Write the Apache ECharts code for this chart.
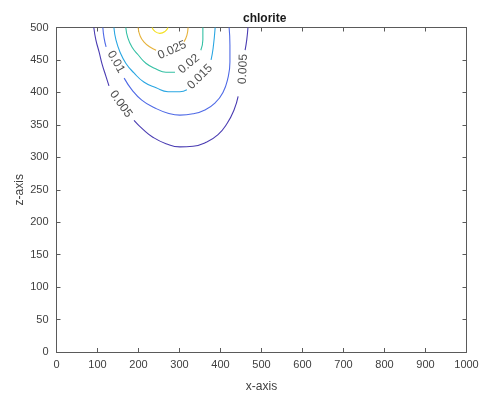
<!DOCTYPE html>
<html>
<head>
<meta charset="utf-8">
<script src="https://cdn.jsdelivr.net/npm/echarts@6/dist/echarts.min.js"></script>
<style>html,body{margin:0;padding:0;background:#fff}#c{width:486px;height:396px}</style>
</head>
<body>
<div id="c"></div>
<script>
// ---- data ----
var titleText = 'chlorite';
var xName = 'x-axis';
var zName = 'z-axis';
var xTicks = [0,100,200,300,400,500,600,700,800,900,1000];
var zTicks = [0,50,100,150,200,250,300,350,400,450,500];
var levels = [0.005, 0.01, 0.015, 0.02, 0.025, 0.03];

// contour paths [x, z]; null = break where a label sits
var c005 = [[91,500],[96,481],[104,462],[111,444],[121,424],[128,410],null,
  [189,357],[211,343],[235,331],[267,321],[301,316],[333,317],[365,323],[394,335],[416,352],[433,373],[443,394],null,
  [460,465],[464,481],[467,500]];
var c010 = [[113,500],[116,484],[121,470],null,
  [165,422],[184,404],[208,388],[240,376],[272,368],[301,365],[333,367],[362,373],[387,384],[406,400],[418,422],[423,447],[423,473],[421,500]];
var c015 = [[140,500],[145,481],[155,462],[169,445],[189,430],[213,416],[243,407],[272,401],[301,401],[318,404],null,
  [377,450],[382,468],[387,500]];
var c020 = [[169,500],[174,484],[184,470],[199,458],[218,445],[243,436],[267,431],[289,431],null,
  [352,465],[357,481],[357,500]];
var c025 = [[199,500],[204,487],[213,478],[228,470],[243,465],null,
  [311,478],[318,488],[321,500]];
var c030 = [[233,500],[240,494],[252,491],[265,494],[272,500]];
var contours = [c005, c010, c015, c020, c025, c030];

// contour label anchors [x, z], text and angle
var labelPos = [[157,382],[145,447],[282,465],[323,444],[350,424],[455,436]];
var labelText = ['0.005','0.01','0.025','0.02','0.015','0.005'];
var labelAngle = [-55,-60,24,40,45,88];

// ---- style ----
var colors = ['#4a3cb2','#4f6ae6','#2aa6e2','#34c0a4','#e6b23a','#f4e01e'];
var FONT = 'Liberation Sans, Arial, Helvetica, sans-serif';
var axisCol = '#5a5a5a';
var textCol = '#404040';

var series = contours.map(function (pts, i) {
  return {
    type: 'line', xAxisIndex: 0, yAxisIndex: 0,
    data: pts.map(function (p) { return p === null ? '-' : p; }),
    showSymbol: false, symbol: 'none', smooth: 0.5,
    connectNulls: false,
    lineStyle: { color: colors[i], width: 1.1 },
    silent: true, animation: false, z: 3
  };
});
series.push({
  type: 'scatter', xAxisIndex: 0, yAxisIndex: 0,
  symbolSize: 0, animation: false, silent: true, z: 4,
  data: labelPos.map(function (p, i) {
    return { value: p, label: { rotate: labelAngle[i], formatter: labelText[i] } };
  }),
  label: { show: true, position: 'inside', color: '#1a1a1a', fontSize: 12, fontFamily: FONT }
});

function axisBase(extra) {
  var a = {
    type: 'value',
    axisLine: { show: true, onZero: false, lineStyle: { color: axisCol, width: 1 } },
    axisTick: { show: true, inside: true, length: 4, lineStyle: { color: axisCol } },
    splitLine: { show: false },
    axisLabel: { show: true, color: textCol, fontSize: 11, fontFamily: FONT }
  };
  for (var k in extra) a[k] = extra[k];
  return a;
}
function plain(v) { return String(v); }

var chart = echarts.init(document.getElementById('c'), null, { renderer: 'canvas' });
chart.setOption({
  backgroundColor: '#fff',
  animation: false,
  title: { text: titleText, left: 238, top: 8,
    textStyle: { fontSize: 12, fontWeight: 'bold', color: '#1a1a1a', fontFamily: FONT } },
  grid: { left: 56.5, right: 19.5, top: 27.5, bottom: 44, containLabel: false, outerBoundsMode: 'none' },
  xAxis: [
    axisBase({ position: 'bottom', min: xTicks[0], max: xTicks[xTicks.length-1], interval: 100,
      name: xName, nameLocation: 'middle', nameGap: 29, nameMoveOverlap: false,
      nameTextStyle: { color: textCol, fontSize: 12, fontFamily: FONT },
      axisLabel: { show: true, color: textCol, fontSize: 11, fontFamily: FONT, margin: 7, formatter: plain } }),
    axisBase({ position: 'top', min: xTicks[0], max: xTicks[xTicks.length-1], interval: 100,
      axisLabel: { show: false } })
  ],
  yAxis: [
    axisBase({ position: 'left', min: zTicks[0], max: zTicks[zTicks.length-1], interval: 50,
      name: zName, nameLocation: 'middle', nameGap: 31, nameMoveOverlap: false,
      nameTextStyle: { color: textCol, fontSize: 12, fontFamily: FONT },
      axisLabel: { show: true, color: textCol, fontSize: 11, fontFamily: FONT, margin: 8, formatter: plain } }),
    axisBase({ position: 'right', min: zTicks[0], max: zTicks[zTicks.length-1], interval: 50,
      axisLabel: { show: false } })
  ],
  series: series
});
</script>
</body>
</html>
